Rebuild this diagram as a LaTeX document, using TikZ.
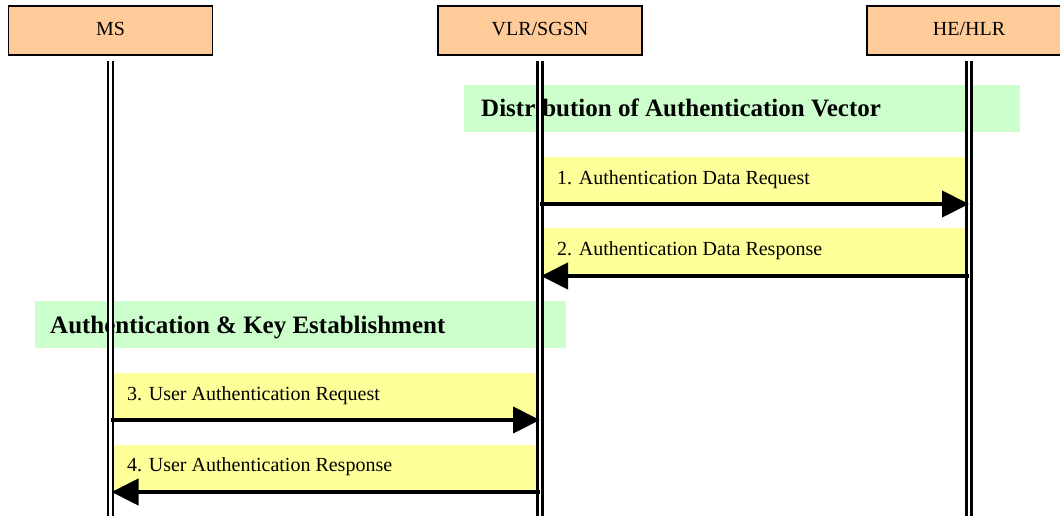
\documentclass[tikz,border=0pt]{standalone}
\usepackage{fontspec}
\setmainfont{Liberation Serif}
\usetikzlibrary{arrows.meta}
\definecolor{peach}{HTML}{FFCC99}
\definecolor{mint}{HTML}{CCFFCC}
\definecolor{lemon}{HTML}{FFFF99}
\begin{document}
\begin{tikzpicture}[x=1pt,y=-1pt,
  actor/.style={draw=black, line width=1.5pt, fill=peach, minimum width=204pt, minimum height=49pt,
    inner sep=0pt, text height=13.5pt, text depth=4.5pt, font=\fontsize{20}{24}\selectfont},
  phasebg/.style={fill=mint},
  msgbg/.style={fill=lemon},
  phasetext/.style={anchor=base west, inner sep=0pt, font=\fontsize{25}{29}\selectfont\bfseries},
  msgtext/.style={anchor=base west, inner sep=0pt, font=\fontsize{20}{24}\selectfont},
  lifeline/.style={draw=black, line width=2.2pt, double=white, double distance=2.8pt},
  msg/.style={draw=black, line width=4.2pt, -{Triangle[length=27pt,width=26pt]}}
]
\clip (0,0) rectangle (1060,515);
\fill[white] (0,0) rectangle (1060,515);

% actors
\node[actor] (ms)  at (110.5,30.5) {MS};
\node[actor] (vlr) at (540,30.5) {VLR/SGSN};
\node[actor] (hlr) at (969,30.5) {HE/HLR};

% phase backgrounds
\fill[phasebg] (464,85) rectangle (1020,132);
\fill[phasebg] (35,301) rectangle (566,348);

% message backgrounds
\fill[msgbg] (541,157) rectangle (969,204);
\fill[msgbg] (541,228) rectangle (969,276);
\fill[msgbg] (112,373) rectangle (540,420);
\fill[msgbg] (112,445) rectangle (540,492);

% texts
\node[phasetext] (p1) at (481,116.5) {Distribution of Authentication Vector};
\node[phasetext] (p2) at (50,333) {Authentication \& Key Establishment};
\node[msgtext] (t1) at (557,184) {1. Authentication Data Request};
\node[msgtext] (t2) at (557,255) {2. Authentication Data Response};
\node[msgtext] (t3) at (127,400) {3. User Authentication Request};
\node[msgtext] (t4) at (127,471.5) {4. User Authentication Response};

% lifelines
\coordinate (msTop)  at (110.5,61);
\coordinate (vlrTop) at (540,61);
\coordinate (hlrTop) at (969,61);
\coordinate (msEnd)  at (110.5,516);
\coordinate (vlrEnd) at (540,516);
\coordinate (hlrEnd) at (969,516);
\draw[lifeline] (msTop) -- (msEnd);
\draw[lifeline] (vlrTop) -- (vlrEnd);
\draw[lifeline] (hlrTop) -- (hlrEnd);

% message end points
\coordinate (v1) at (540,204);   \coordinate (h1) at (969,204);
\coordinate (h2) at (969,276);   \coordinate (v2) at (541,276);
\coordinate (m3) at (110.5,420); \coordinate (v3) at (540,420);
\coordinate (v4) at (540,492);   \coordinate (m4) at (111.5,492);

\draw[msg] (v1) -- (h1);
\draw[msg] (h2) -- (v2);
\draw[msg] (m3) -- (v3);
\draw[msg] (v4) -- (m4);
\end{tikzpicture}
\end{document}
